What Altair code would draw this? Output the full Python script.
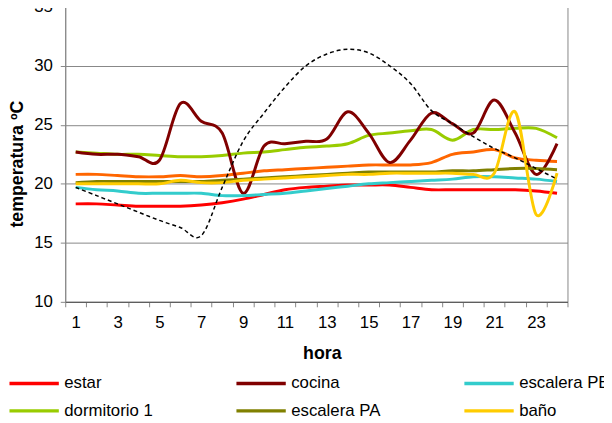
import altair as alt
import pandas as pd

hours = list(range(1, 25))

estar = [18.3, 18.3, 18.2, 18.1, 18.1, 18.1, 18.2, 18.4, 18.7, 19.1, 19.5, 19.7,
         19.8, 19.9, 19.9, 19.9, 19.7, 19.5, 19.5, 19.5, 19.5, 19.5, 19.4, 19.2]
cocina = [22.7, 22.5, 22.5, 22.3, 22.0, 26.8, 25.3, 24.3, 19.2, 23.2, 23.4, 23.6,
          23.8, 26.1, 24.3, 21.8, 23.7, 26.0, 25.1, 24.3, 27.1, 24.3, 20.8, 23.4]
escalera_pb = [19.7, 19.5, 19.4, 19.2, 19.2, 19.2, 19.2, 19.0, 19.0, 19.1, 19.2, 19.4,
               19.6, 19.8, 20.0, 20.1, 20.2, 20.3, 20.4, 20.6, 20.6, 20.5, 20.4, 20.2]
dormitorio_1 = [22.7, 22.6, 22.5, 22.5, 22.4, 22.3, 22.3, 22.4, 22.6, 22.7, 22.9, 23.1,
                23.2, 23.4, 24.1, 24.3, 24.5, 24.6, 23.7, 24.6, 24.6, 24.7, 24.7, 23.9]
escalera_pa = [20.1, 20.2, 20.2, 20.2, 20.2, 20.2, 20.2, 20.3, 20.4, 20.5, 20.6, 20.7,
               20.8, 20.9, 21.0, 21.0, 21.0, 21.0, 21.1, 21.1, 21.2, 21.3, 21.3, 21.2]
bano = [20.0, 20.0, 20.0, 20.0, 20.0, 20.3, 20.1, 20.1, 20.3, 20.4, 20.5, 20.6,
        20.7, 20.8, 20.8, 20.9, 20.9, 20.9, 20.9, 20.8, 20.9, 26.1, 17.4, 20.9]
naranja = [20.8, 20.8, 20.7, 20.6, 20.6, 20.7, 20.6, 20.7, 20.9, 21.1, 21.2, 21.3,
           21.4, 21.5, 21.6, 21.6, 21.6, 21.8, 22.5, 22.7, 22.9, 22.2, 22.0, 21.9]
exterior = [19.7, 19.0, 18.3, 17.6, 16.9, 16.3, 15.6, 19.7, 23.6, 26.0, 28.2, 30.0,
            31.0, 31.4, 31.1, 30.0, 28.5, 26.2, 25.1, 24.0, 23.0, 22.2, 21.3, 20.4]

# legend fills column by column (2 rows): this order reads row-wise as
# estar, cocina, escalera PB / dormitorio 1, escalera PA, baño
legend_names = ["estar", "dormitorio 1", "cocina", "escalera PA", "escalera PB", "baño"]
legend_colors = ["#FF0000", "#99CC00", "#800000", "#808000", "#33CCCC", "#FFCC00"]
legend_series = [estar, dormitorio_1, cocina, escalera_pa, escalera_pb, bano]

y_ticks = [10, 15, 20, 25, 30, 35]

rows = []
for name, vals in zip(legend_names, legend_series):
    for h, v in zip(hours, vals):
        rows.append({"hora": h, "temp": v, "serie": name})
df = pd.DataFrame(rows)
df_nar = pd.DataFrame({"hora": hours, "temp": naranja})
df_ext = pd.DataFrame({"hora": hours, "temp": exterior})

FONT = "Liberation Sans"
GRAY = "#868686"

x_enc = alt.X(
    "hora:O",
    scale=alt.Scale(type="band", paddingInner=0, paddingOuter=0),
    axis=alt.Axis(
        title="hora", tickBand="extent", labelAngle=0,
        labelExpr="datum.value % 2 == 1 ? datum.label : ''",
        titleX=260, titleY=52, titleBaseline="middle", titleAlign="center",
    ),
)
y_enc = alt.Y(
    "temp:Q",
    scale=alt.Scale(domain=[10, 35], nice=False, zero=False),
    axis=alt.Axis(
        title="temperatura ºC", values=y_ticks, grid=True,
        titleX=-48, titleY=159, titleAngle=270, titleBaseline="middle", titleAlign="center",
    ),
)

main = alt.Chart(df).mark_line(interpolate="cardinal", strokeWidth=3).encode(
    x=x_enc,
    y=y_enc,
    color=alt.Color(
        "serie:N",
        scale=alt.Scale(domain=legend_names, range=legend_colors),
        sort=legend_names,
        legend=alt.Legend(
            title=None, orient="none", legendX=-65, legendY=373, columns=3,
            symbolType="M0,0H10", symbolSize=100, symbolStrokeWidth=3.5,
            labelOffset=47, columnPadding=76, rowPadding=10, padding=0,
            labelFontSize=17, labelFont=FONT, labelColor="#000000", labelLimit=300,
        ),
    ),
    order=alt.Order("hora:O"),
)

nar = alt.Chart(df_nar).mark_line(interpolate="cardinal", strokeWidth=3, color="#FF6600").encode(
    x=x_enc, y=y_enc
)
ext = alt.Chart(df_ext).mark_line(
    interpolate="cardinal", strokeWidth=1.5, color="#000000", strokeDash=[4, 3]
).encode(x=x_enc, y=y_enc)

chart = alt.layer(nar, main, ext).properties(
    width=509, height=299,
    background="#ffffff",
    autosize=alt.AutoSizeParams(type="none"),
    padding={"left": 58, "top": -4, "right": 37, "bottom": 120},
).configure_view(
    stroke=GRAY, strokeWidth=1
).configure_axis(
    labelFont=FONT, labelFontSize=17, labelColor="#000000",
    titleFont=FONT, titleFontSize=18, titleFontWeight="bold", titleColor="#000000",
    domainColor=GRAY, tickColor=GRAY, gridColor=GRAY, tickSize=5, labelPadding=8,
    domainWidth=1, tickWidth=1, gridWidth=1,
).configure_axisX(
    grid=False, domainColor="#555555",
)

chart.save("out.html", embed_options={"renderer": "svg", "actions": False})
